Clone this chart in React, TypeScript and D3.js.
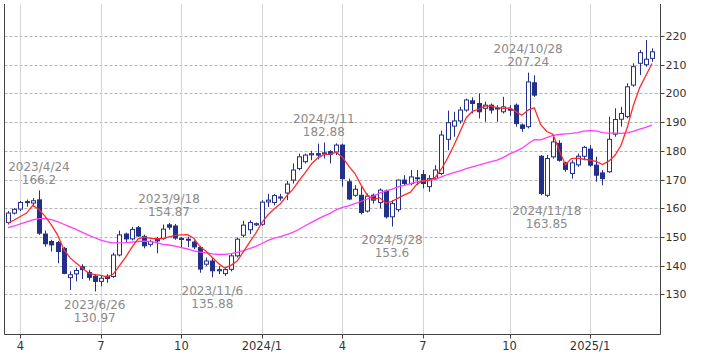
import * as d3 from 'd3'

// weekly candles, first week starting 2023/3/20
const firstWeek = new Date(2023, 2, 20)

const opens = [
  155.0, 158.3, 159.7, 162.0, 161.8, 162.9, 151.0, 148.4, 148.0, 146.0,
  135.8, 137.1, 139.6, 137.6, 136.3, 134.5, 136.3, 136.2, 143.7, 151.0,
  149.3, 153.2, 150.2, 147.4, 149.1, 149.5, 154.2, 153.8, 149.5, 149.2,
  148.2, 146.3, 140.5, 141.6, 138.2, 137.2, 138.7, 143.4, 150.6, 152.5,
  154.2, 154.4, 162.2, 162.0, 163.6, 165.3, 169.8, 173.8, 176.2, 178.6,
  179.0, 178.9, 179.7, 179.6, 182.0, 169.2, 164.5, 164.5, 159.0, 164.5,
  162.0, 166.0, 157.0, 159.5, 169.8, 168.6, 170.3, 171.7, 167.5, 170.3,
  172.1, 184.0, 188.6, 190.4, 194.2, 197.4, 196.5, 194.8, 195.9, 194.7,
  193.6, 194.5, 195.9, 189.0, 188.4, 203.7, 178.1, 164.5, 177.9, 182.6,
  175.8, 172.1, 175.1, 178.1, 180.6, 175.0, 172.3, 172.7, 185.8, 191.0,
  191.9, 202.9, 210.5, 210.0, 212.2,
]
const highs = [
  159.0, 160.0, 162.5, 163.0, 163.5, 166.2, 152.2, 149.0, 148.6, 146.5,
  138.0, 139.2, 140.5, 138.5, 137.0, 136.5, 137.0, 144.5, 152.2, 151.5,
  153.5, 153.8, 150.8, 149.0, 150.0, 154.3, 154.87, 154.5, 149.9, 150.1,
  148.8, 146.9, 142.8, 142.8, 139.9, 139.3, 144.0, 149.8, 155.6, 155.8,
  155.0, 162.8, 165.0, 164.9, 165.0, 169.5, 175.6, 179.0, 179.0, 180.0,
  182.5, 182.88, 180.2, 182.6, 182.5, 170.3, 168.0, 167.4, 165.1, 165.1,
  166.9, 166.5, 162.8, 170.0, 171.5, 173.3, 173.3, 173.3, 171.5, 175.0,
  187.0, 194.0, 193.6, 195.3, 198.2, 198.6, 200.0, 197.1, 196.5, 195.9,
  198.8, 195.9, 196.5, 189.5, 207.24, 206.3, 178.5, 178.5, 184.9, 183.7,
  176.2, 176.7, 179.0, 181.7, 182.0, 177.9, 173.3, 191.9, 194.8, 195.3,
  203.5, 210.5, 215.1, 218.6, 215.7,
]
const lows = [
  154.3, 157.8, 159.0, 160.5, 160.5, 150.7, 146.6, 144.9, 140.8, 137.0,
  131.5, 134.5, 135.3, 134.8, 130.97, 132.8, 134.0, 135.7, 143.2, 148.0,
  148.8, 150.0, 146.0, 146.6, 144.3, 149.0, 152.5, 149.0, 146.2, 146.5,
  145.7, 137.5, 139.9, 135.88, 137.0, 136.4, 138.0, 142.8, 149.8, 151.0,
  153.8, 153.8, 160.4, 161.0, 162.6, 162.8, 168.6, 173.2, 175.6, 176.7,
  177.0, 177.3, 175.6, 178.5, 167.5, 162.8, 164.0, 157.8, 158.5, 161.6,
  160.0, 156.4, 153.6, 158.7, 168.0, 168.0, 168.0, 166.9, 165.7, 169.8,
  171.5, 180.2, 184.9, 189.5, 193.6, 193.0, 191.3, 190.1, 193.0, 190.1,
  193.0, 192.2, 188.4, 186.6, 187.8, 198.8, 164.5, 163.85, 177.3, 176.2,
  172.7, 170.3, 174.4, 176.7, 174.4, 169.2, 168.0, 172.3, 184.9, 188.4,
  191.3, 202.3, 206.4, 209.3, 211.0,
]
const closes = [
  158.3, 159.6, 162.0, 162.3, 162.6, 151.3, 147.6, 147.2, 144.9, 137.3,
  136.8, 138.3, 138.6, 135.9, 134.5, 135.6, 135.5, 143.7, 150.7, 149.3,
  152.6, 150.3, 146.9, 148.4, 148.6, 152.7, 153.4, 149.6, 149.1, 149.0,
  146.5, 138.8, 141.6, 138.2, 138.6, 138.6, 143.4, 149.2, 154.1, 155.0,
  154.6, 162.1, 162.8, 164.4, 163.9, 168.4, 173.3, 177.9, 178.5, 179.0,
  178.5, 179.3, 178.8, 182.0, 170.3, 163.2, 166.6, 158.5, 164.2, 162.8,
  166.3, 157.0, 161.6, 169.8, 168.6, 170.9, 170.6, 168.6, 170.3, 173.3,
  185.5, 189.8, 190.4, 194.2, 197.7, 196.5, 193.6, 195.9, 194.2, 194.9,
  195.3, 194.3, 189.5, 187.8, 204.0, 199.4, 165.1, 177.3, 183.1, 176.7,
  173.5, 175.8, 178.1, 181.2, 175.0, 171.5, 170.3, 184.0, 190.9, 193.0,
  202.3, 209.3, 214.2, 211.9, 214.5,
]

// moving-average values for the first weeks (history before the visible range)
const ma5Lead = [154.8, 155.9, 157.1, 158.3]
const ma26Lead = [
  153.2, 153.8, 154.5, 155.2, 155.9, 156.4, 156.4, 156.0, 155.3, 154.4,
  153.5, 152.6, 151.6, 150.6, 149.7, 148.9, 148.3, 147.9, 147.9, 148.0,
  148.2, 148.4, 148.5, 148.4, 148.0,
]

const yTicks = [130, 140, 150, 160, 170, 180, 190, 200, 210, 220]
const tickMonths = [1, 4, 7, 10]

const notes = [
  { i: 5, kind: 'high', date: '2023/4/24', value: '166.2' },
  { i: 14, kind: 'low', date: '2023/6/26', value: '130.97' },
  { i: 26, kind: 'high', date: '2023/9/18', value: '154.87' },
  { i: 33, kind: 'low', date: '2023/11/6', value: '135.88' },
  { i: 51, kind: 'high', date: '2024/3/11', value: '182.88' },
  { i: 62, kind: 'low', date: '2024/5/28', value: '153.6' },
  { i: 84, kind: 'high', date: '2024/10/28', value: '207.24' },
  { i: 87, kind: 'low', date: '2024/11/18', value: '163.85' },
]

const W = 709
const H = 354
const plot = { left: 4.5, right: 660.5, top: 4, bottom: 334.5 }
const NAVY = '#23308a'
const FONT = '"DejaVu Sans", Verdana, sans-serif'

function movingAvg(win: number, lead: number[]) {
  return closes.map((_, i) =>
    i < win - 1 ? lead[i] : (d3.mean(closes.slice(i - win + 1, i + 1)) as number))
}

export default function App() {
  const n = closes.length
  const dates = d3.range(n).map(i => d3.timeDay.offset(firstWeek, 7 * i))

  const x = d3.scaleLinear().domain([0, n - 1]).range([8, 652])
  const y = d3.scaleLinear().domain([130, 220]).range([294.3, 36])

  // first week of each quarter month
  const ticks = d3.range(1, n).filter(i =>
    dates[i].getMonth() !== dates[i - 1].getMonth() &&
    tickMonths.includes(dates[i].getMonth() + 1))
  const tickLabel = (i: number) => {
    const d = dates[i]
    return d.getMonth() === 0 ? `${d.getFullYear()}/1` : String(d.getMonth() + 1)
  }

  const ma5 = movingAvg(5, ma5Lead)
  const ma26 = movingAvg(26, ma26Lead)
  const line = d3.line<number>().x((_, i) => x(i)).y(d => y(d))

  const bw = 4

  return (
    <svg width={W} height={H} style={{ position: 'absolute', left: 0, top: 0, background: '#fff' }}
      fontFamily={FONT}>
      {/* horizontal grid */}
      {yTicks.map(t => (
        <line key={t} x1={plot.left} x2={plot.right} y1={Math.round(y(t)) + 0.5} y2={Math.round(y(t)) + 0.5}
          stroke="#b4b4b4" strokeDasharray="3,2" />
      ))}
      {/* vertical grid */}
      {ticks.map(i => (
        <line key={i} x1={Math.round(x(i)) + 0.5} x2={Math.round(x(i)) + 0.5} y1={plot.top} y2={plot.bottom}
          stroke="#d4d4d4" />
      ))}

      {/* candles */}
      {closes.map((c, i) => {
        const o = opens[i]
        const up = c >= o
        const cx = Math.round(x(i)) + 0.5
        const top = y(Math.max(o, c))
        const bot = y(Math.min(o, c))
        return (
          <g key={i}>
            <line x1={cx} x2={cx} y1={y(highs[i])} y2={y(lows[i])} stroke={NAVY} strokeWidth={1} />
            <rect x={cx - bw / 2} y={top} width={bw} height={Math.max(bot - top, 1)}
              fill={up ? '#fff' : NAVY} stroke={NAVY} strokeWidth={1} />
          </g>
        )
      })}

      {/* moving averages */}
      <path d={line(ma26) ?? ''} fill="none" stroke="#ff3cff" strokeWidth={1.3} />
      <path d={line(ma5) ?? ''} fill="none" stroke="#ff2a2a" strokeWidth={1.3} />

      {/* high / low notes */}
      {notes.map(nt => {
        const cx = x(nt.i)
        const py = nt.kind === 'high' ? y(highs[nt.i]) : y(lows[nt.i])
        const vY = nt.kind === 'high' ? py - 6.5 : py + 30.5
        const dY = nt.kind === 'high' ? py - 19.5 : py + 17.5
        return (
          <g key={nt.date} fill="#8a8a8a" fontSize={12} textAnchor="middle">
            <text x={cx} y={dY}>{nt.date}</text>
            <text x={cx} y={vY}>{nt.value}</text>
          </g>
        )
      })}

      {/* frame */}
      <line x1={plot.left} x2={plot.left} y1={plot.top} y2={plot.bottom} stroke="#444" />
      <line x1={plot.right} x2={plot.right} y1={plot.top} y2={plot.bottom} stroke="#444" />
      <line x1={plot.left} x2={plot.right} y1={plot.bottom} y2={plot.bottom} stroke="#444" />

      {/* y axis labels */}
      {yTicks.map(t => (
        <g key={t}>
          <line x1={plot.right} x2={plot.right + 4} y1={Math.round(y(t)) + 0.5} y2={Math.round(y(t)) + 0.5} stroke="#444" />
          <text x={plot.right + 5} y={y(t) + 4} fontSize={11} fill="#333">{t}</text>
        </g>
      ))}

      {/* x axis labels */}
      {ticks.map(i => (
        <g key={i}>
          <line x1={Math.round(x(i)) + 0.5} x2={Math.round(x(i)) + 0.5} y1={plot.bottom} y2={plot.bottom + 4} stroke="#444" />
          <text x={x(i)} y={350} fontSize={11.5} fill="#333" textAnchor="middle">{tickLabel(i)}</text>
        </g>
      ))}
    </svg>
  )
}
